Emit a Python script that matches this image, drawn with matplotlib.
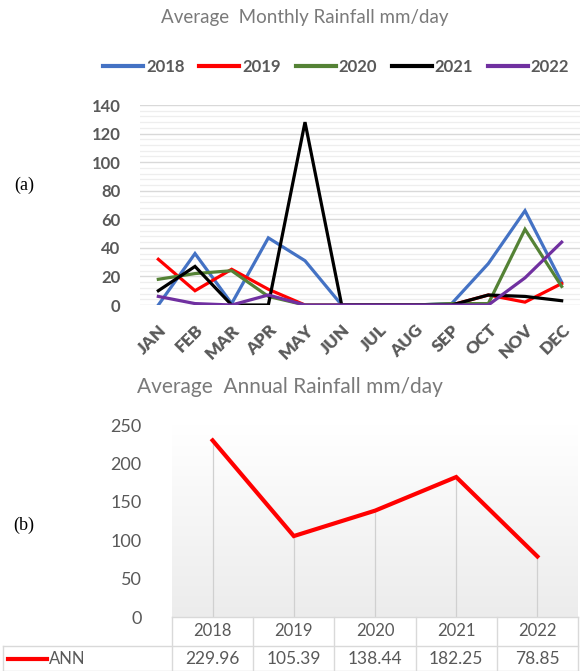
import numpy as np
import matplotlib
matplotlib.use("Agg")
import matplotlib.pyplot as plt
from matplotlib.lines import Line2D
from matplotlib.ticker import MultipleLocator
from matplotlib.transforms import blended_transform_factory

plt.rcParams["font.family"] = ["Lato", "DejaVu Sans"]

# -- Data --------------------------------------------------------------------
months = ["JAN", "FEB", "MAR", "APR", "MAY", "JUN",
          "JUL", "AUG", "SEP", "OCT", "NOV", "DEC"]
rain_2018 = [0, 36, 1, 47, 31, 0, 0, 0, 1, 29, 66, 16]
rain_2019 = [32, 10, 25, 11, 0, 0, 0, 0, 0, 7, 2, 15]
rain_2020 = [18, 22, 24, 6, 0, 0, 0, 0, 1, 1, 53, 13]
rain_2021 = [10, 27, 0, 0, 128, 0, 0, 0, 0, 7, 6, 3]
rain_2022 = [6, 1, 0, 7, 0, 0, 0, 0, 0, 0, 19, 44]
series_years = ["2018", "2019", "2020", "2021", "2022"]

years = ["2018", "2019", "2020", "2021", "2022"]
annual = [229.96, 105.39, 138.44, 182.25, 78.85]

# -- Styles ------------------------------------------------------------------
C_TXT = "#595959"
C_TITLE = "#7a7a7a"
C_GRID = "#d9d9d9"
C_MINOR = "#eeeeee"
colors = ["#4472C4", "#FF0000", "#548235", "#000000", "#7030A0"]

W, H = 583, 671
fig = plt.figure(figsize=(W / 100, H / 100), dpi=100)
fig.patch.set_facecolor("white")


def px_axes(x0, y0, x1, y1):
    """Axes from pixel box (left, top, right, bottom)."""
    return fig.add_axes([x0 / W, 1 - y1 / H, (x1 - x0) / W, (y1 - y0) / H])


# -- (a) monthly rainfall ----------------------------------------------------
ax1 = px_axes(140, 105, 580, 305)
x = np.arange(len(months))
for vals, c in zip([rain_2018, rain_2019, rain_2020, rain_2021, rain_2022], colors):
    ax1.plot(x, vals, color=c, lw=2.3, solid_joinstyle="miter", zorder=3)
ax1.set_xlim(-0.5, len(months) - 0.5)
ax1.set_ylim(0, 140)
ax1.yaxis.set_major_locator(MultipleLocator(20))
ax1.yaxis.set_minor_locator(MultipleLocator(4))
ax1.grid(axis="y", which="major", color=C_GRID, lw=1.0, zorder=0)
ax1.grid(axis="y", which="minor", color=C_MINOR, lw=0.9, zorder=0)
for s in ax1.spines.values():
    s.set_visible(False)
ax1.tick_params(which="both", length=0)
ax1.tick_params(axis="y", pad=14, labelsize=12, labelcolor=C_TXT)
ax1.set_xticks(x)
ax1.set_xticklabels(months, rotation=45, ha="right", rotation_mode="anchor",
                    fontsize=12.5, fontweight="heavy", color=C_TXT)
ax1.tick_params(axis="x", pad=12)
for lbl in ax1.get_yticklabels():
    lbl.set_fontweight("bold")

fig.text(305 / W, 1 - 18 / H, "Average  Monthly Rainfall mm/day",
         ha="center", va="center", fontsize=13.5, color=C_TITLE)

handles = [Line2D([], [], color=c, lw=3) for c in colors]
fig.legend(handles, series_years, loc="center", ncol=5,
           bbox_to_anchor=(336 / W, 1 - 67 / H), frameon=False,
           handlelength=2.4, handletextpad=0.15, columnspacing=0.9,
           prop=dict(size=12, weight="bold"), labelcolor=C_TXT)

# -- (b) annual rainfall -----------------------------------------------------
ax2 = px_axes(172, 425, 578, 617)
xa = np.arange(len(years))
grad = np.linspace(0, 1, 256).reshape(-1, 1)
ax2.imshow(grad, extent=[-0.5, len(years) - 0.5, 0, 250], aspect="auto",
           cmap=matplotlib.colors.LinearSegmentedColormap.from_list(
               "bg", ["#ececec", "#ffffff"]), origin="lower", zorder=0)
ax2.set_xlim(-0.5, len(years) - 0.5)
ax2.set_ylim(0, 250)
ax2.plot(xa, annual, color="#FF0000", lw=3, solid_joinstyle="miter", zorder=3)
ax2.vlines(xa, 0, annual, color="#d0d0d0", lw=0.9, zorder=1)
for s in ax2.spines.values():
    s.set_visible(False)
ax2.set_xticks([])
ax2.yaxis.set_major_locator(MultipleLocator(50))
ax2.tick_params(axis="y", length=0, pad=22, labelsize=13, labelcolor=C_TXT)

fig.text(290 / W, 1 - 387 / H, "Average  Annual Rainfall mm/day",
         ha="center", va="center", fontsize=15, color=C_TITLE)

# data table under the axis
tr = blended_transform_factory(ax2.transData, ax2.transAxes)
row_h = 29 / 192  # header row height in axes fraction
row2_h = 25 / 192
y_top = 0.0
y_mid = -row_h
y_bot = -row_h - row2_h
x_left = (3 - 172) / 406 * len(years) - 0.5
bkw = dict(color=C_GRID, lw=1.0, clip_on=False, transform=tr)
ax2.plot([-0.5, len(years) - 0.5], [y_top, y_top], **bkw)
ax2.plot([x_left, len(years) - 0.5], [y_mid, y_mid], **bkw)
ax2.plot([x_left, len(years) - 0.5], [y_bot, y_bot], **bkw)
for b in np.arange(len(years) + 1) - 0.5:
    ax2.plot([b, b], [y_top, y_bot], **bkw)
ax2.plot([x_left, x_left], [y_mid, y_bot], **bkw)
for xi, yr, v in zip(xa, years, annual):
    ax2.text(xi, (y_top + y_mid) / 2, yr, transform=tr, ha="center",
             va="center", fontsize=12, color=C_TXT, clip_on=False)
    ax2.text(xi, (y_mid + y_bot) / 2, f"{v:.2f}", transform=tr, ha="center",
             va="center", fontsize=12.5, color=C_TXT, clip_on=False)
key_x0 = x_left + 0.06
ax2.plot([key_x0, key_x0 + 0.48], [(y_mid + y_bot) / 2] * 2, color="#FF0000",
         lw=3, transform=tr, clip_on=False)
ax2.text(key_x0 + 0.5, (y_mid + y_bot) / 2, "ANN", transform=tr, ha="left",
         va="center", fontsize=12, color=C_TXT, clip_on=False)

# panel letters
fig.text(24 / W, 1 - 185 / H, "(a)", ha="center", va="center",
         fontsize=13, family="Liberation Serif")
fig.text(24 / W, 1 - 525 / H, "(b)", ha="center", va="center",
         fontsize=13, family="Liberation Serif")

fig.savefig("out.png", dpi=100, facecolor="white")
